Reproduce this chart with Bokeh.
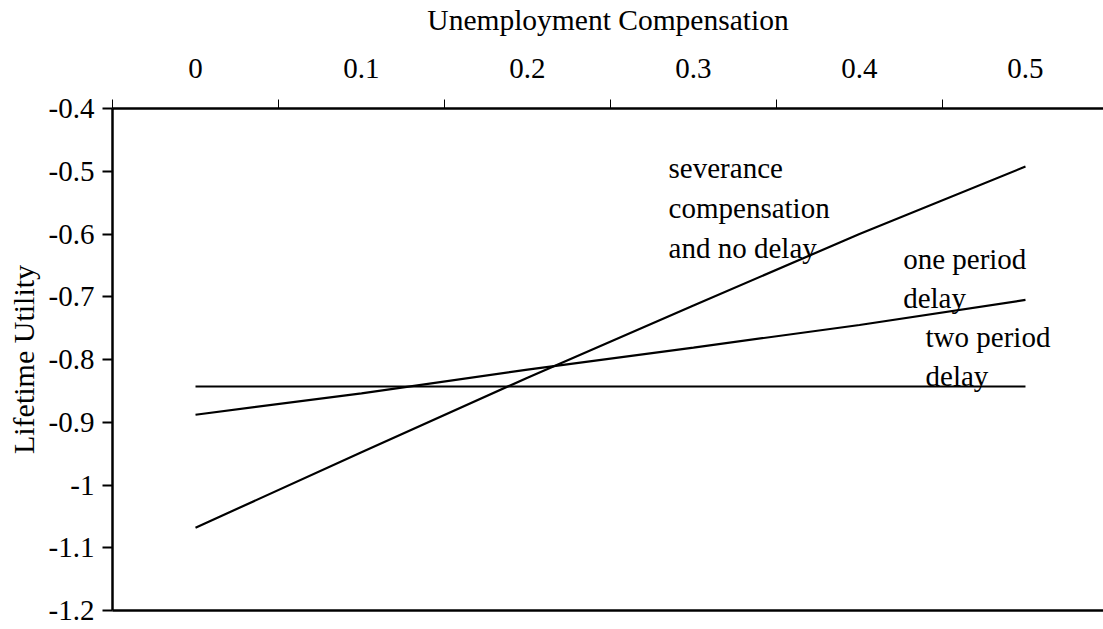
from bokeh.plotting import figure
from bokeh.models import Range1d, FixedTicker, CustomJSTickFormatter, LinearAxis
from bokeh.core.properties import value
from bokeh.embed import file_html
from bokeh.resources import INLINE

# Data
compensation = [0.0, 0.1, 0.2, 0.3, 0.4, 0.5]
severance_no_delay = [-1.068, -0.948, -0.829, -0.714, -0.600, -0.4925]
one_period_delay = [-0.888, -0.854, -0.816, -0.781, -0.745, -0.705]
two_period_delay = [-0.843, -0.843, -0.843, -0.843, -0.843, -0.843]
y_ticks = [-1.2, -1.1, -1.0, -0.9, -0.8, -0.7, -0.6, -0.5, -0.4]
x_boundaries = [-0.05, 0.05, 0.15, 0.25, 0.35, 0.45, 0.55]
label_texts = ["severance\ncompensation\nand no delay", "one period\ndelay", "two period\ndelay"]
label_x = [0.285, 0.4263, 0.4398]
label_y = [-0.47, -0.614, -0.738]

FONT = "Liberation Serif"

p = figure(width=1103, height=629, output_backend="svg", toolbar_location=None,
           x_range=Range1d(-0.05, 0.547), y_range=Range1d(-1.2, -0.4),
           x_axis_location="above", min_border_left=112, min_border_top=106,
           min_border_right=0, min_border_bottom=19)
p.outline_line_color = None
p.xgrid.visible = False
p.ygrid.visible = False
p.background_fill_color = "white"
p.border_fill_color = "white"

fmt = CustomJSTickFormatter(code="return String(Math.round(tick*10)/10);")

xa = p.xaxis[0]
xa.ticker = FixedTicker(ticks=compensation, minor_ticks=x_boundaries)
xa.formatter = fmt
xa.major_tick_out = 0
xa.major_tick_in = 0
xa.minor_tick_out = 9
xa.minor_tick_in = 0
xa.minor_tick_line_width = 1
xa.minor_tick_line_color = "black"
xa.axis_line_width = 2.5
xa.axis_line_color = "black"
xa.major_label_standoff = 22
xa.major_label_text_font = FONT
xa.major_label_text_font_size = "29px"
xa.major_label_text_color = "black"
xa.axis_label = "Unemployment Compensation"
xa.axis_label_text_font = FONT
xa.axis_label_text_font_size = "29.5px"
xa.axis_label_text_font_style = "normal"
xa.axis_label_text_color = "black"
xa.axis_label_standoff = 20

ya = p.yaxis[0]
ya.ticker = FixedTicker(ticks=y_ticks, minor_ticks=[])
ya.formatter = fmt
ya.major_tick_out = 10
ya.major_tick_in = 0
ya.major_tick_line_width = 2
ya.major_tick_line_color = "black"
ya.axis_line_width = 2.5
ya.axis_line_color = "black"
ya.major_label_standoff = 8
ya.major_label_text_font = FONT
ya.major_label_text_font_size = "29px"
ya.major_label_text_color = "black"
ya.axis_label = "Lifetime Utility"
ya.axis_label_text_font = FONT
ya.axis_label_text_font_size = "30px"
ya.axis_label_text_font_style = "normal"
ya.axis_label_text_color = "black"
ya.axis_label_standoff = 6

bottom = LinearAxis(ticker=FixedTicker(ticks=[], minor_ticks=[]), major_tick_out=0,
                    major_tick_in=0, major_label_standoff=0, major_label_text_font_size="0px",
                    axis_line_width=2.5, axis_line_color="black")
p.add_layout(bottom, "below")

for ys in (severance_no_delay, one_period_delay, two_period_delay):
    p.line(compensation, ys, line_color="black", line_width=2.2)

p.text(x=label_x, y=label_y, text=label_texts, text_font=value(FONT),
       text_font_size="29px", text_color="black", text_align="left",
       text_baseline="top", text_line_height=1.24)

open("out.html", "w").write(file_html(p, INLINE))
